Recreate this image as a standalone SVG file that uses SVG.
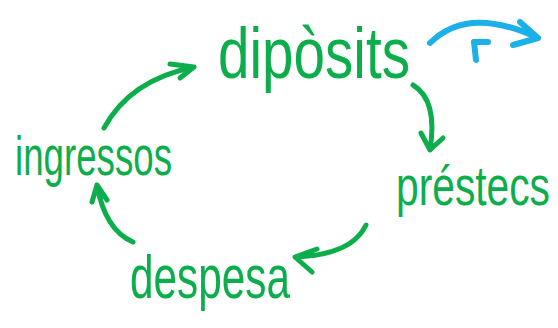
<svg xmlns="http://www.w3.org/2000/svg" width="558" height="328" viewBox="0 0 558 328">
<style>
.lbl{font-family:"Liberation Sans","DejaVu Sans",sans-serif;fill:#0BAE4B;}
.g{fill:none;stroke:#0BAE4B;stroke-width:5;stroke-linecap:round;stroke-linejoin:round;}
.b{fill:none;stroke:#1CB0E8;stroke-width:6;stroke-linecap:round;stroke-linejoin:round;}
</style>
<rect width="558" height="328" fill="#ffffff"/>
<g id="node-diposits"><text class="lbl" x="218" y="78" font-size="72" textLength="192" lengthAdjust="spacingAndGlyphs">dipòsits</text></g>
<g id="node-prestecs"><text class="lbl" transform="translate(396,205) scale(1,1.35)" x="0" y="0" font-size="41" textLength="154" lengthAdjust="spacingAndGlyphs">préstecs</text></g>
<g id="node-despesa"><text class="lbl" x="130" y="298" font-size="62" textLength="160" lengthAdjust="spacingAndGlyphs">despesa</text></g>
<g id="node-ingressos"><text class="lbl" x="15" y="175" font-size="56" textLength="157" lengthAdjust="spacingAndGlyphs">ingressos</text></g>
<g id="connectors">
<path class="g" d="M104,128 Q130,80 194,67 M170,64 L194,67 L180,78"/>
<path class="g" d="M413,85 Q438,100 430,150 M421,133 L430,150 L443,138"/>
<path class="g" d="M366,225 Q352,255 295,257 M317,249 L295,257 L312,272"/>
<path class="g" d="M133,242 Q105,230 97,185 M92,202 L97,185 L107,200"/>
<path class="b" d="M430,43 Q468,5 538,38 M520,22 L538,38 L513,45"/>
<path class="b" d="M476,60 L474,42 L488,42"/>
</g>
</svg>
